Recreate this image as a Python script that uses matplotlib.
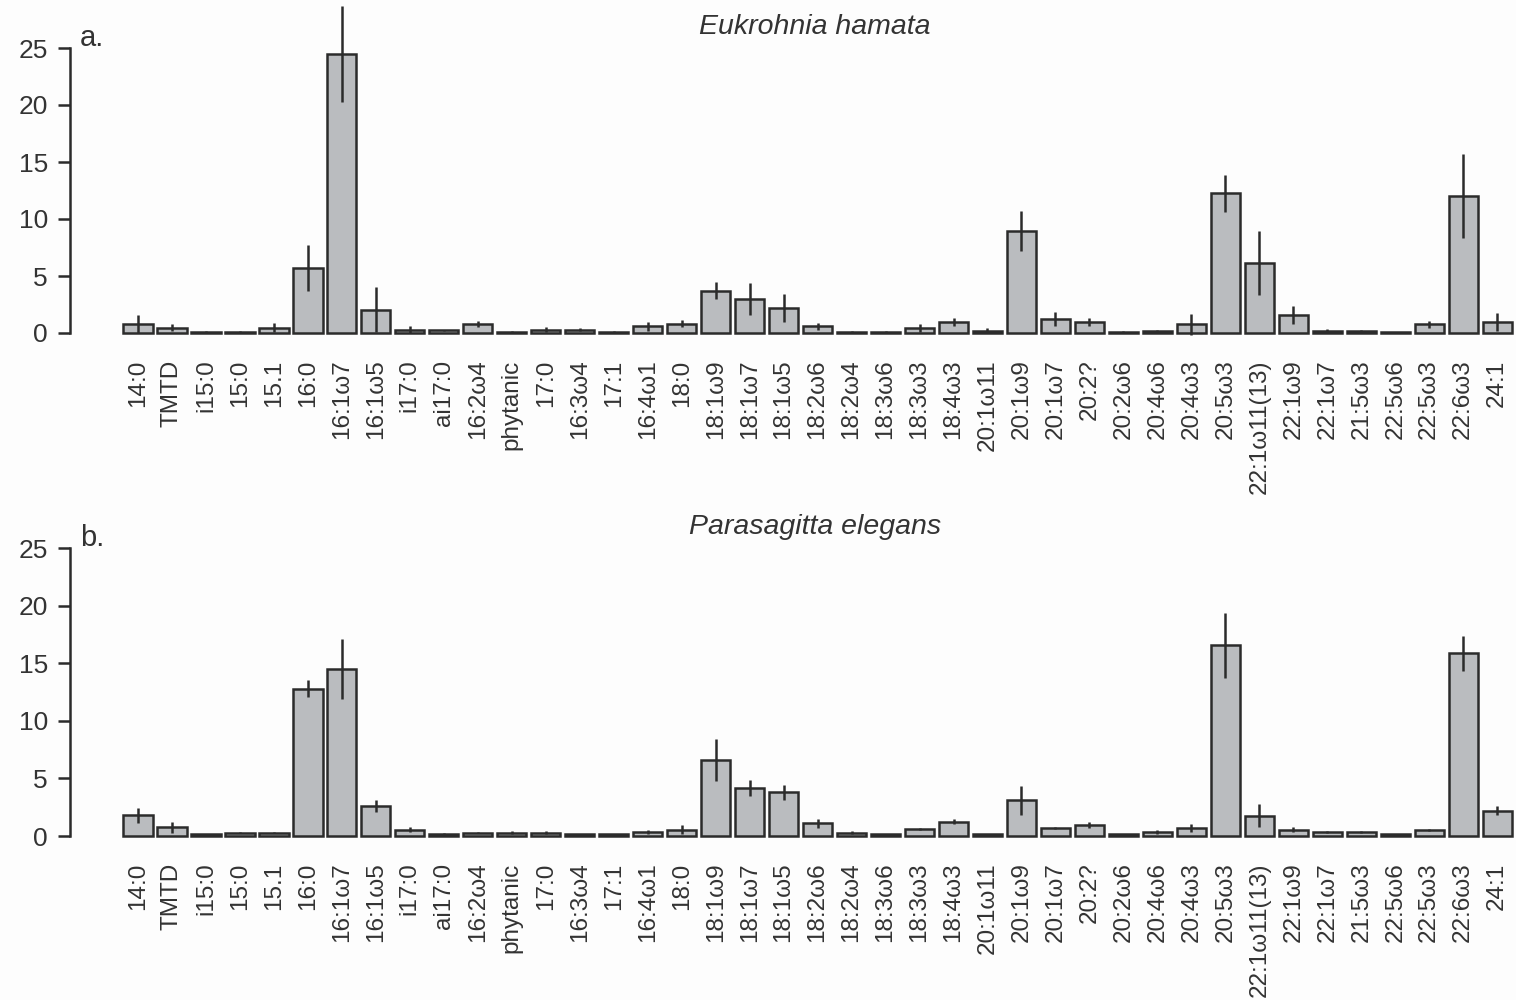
import matplotlib
matplotlib.use("Agg")
import matplotlib.pyplot as plt
import numpy as np

plt.rcParams['font.family'] = ['Liberation Sans', 'DejaVu Sans']

# Fatty acid labels (x categories)
fatty_acids = ["14:0", "TMTD", "i15:0", "15:0", "15.1", "16:0", "16:1ω7", "16:1ω5",
               "i17:0", "ai17:0", "16:2ω4", "phytanic", "17:0", "16:3ω4", "17:1",
               "16:4ω1", "18:0", "18:1ω9", "18:1ω7", "18:1ω5", "18:2ω6", "18:2ω4",
               "18:3ω6", "18:3ω3", "18:4ω3", "20:1ω11", "20:1ω9", "20:1ω7", "20:2?",
               "20:2ω6", "20:4ω6", "20:4ω3", "20:5ω3", "22:1ω11(13)", "22:1ω9",
               "22:1ω7", "21:5ω3", "22:5ω6", "22:5ω3", "22:6ω3", "24:1"]

# Eukrohnia hamata: mean % and error
hamata_mean = [0.8, 0.45, 0.1, 0.1, 0.45, 5.7, 24.5, 2.05, 0.3, 0.25, 0.8, 0.1,
               0.3, 0.3, 0.1, 0.6, 0.8, 3.7, 3.0, 2.2, 0.6, 0.1, 0.1, 0.45, 0.95,
               0.2, 8.95, 1.25, 0.95, 0.1, 0.2, 0.75, 12.25, 6.15, 1.6, 0.2, 0.2,
               0.05, 0.75, 12.0, 0.95]
hamata_err = [0.8, 0.3, 0.05, 0.05, 0.4, 2.0, 4.2, 2.0, 0.3, 0.05, 0.25, 0.05,
              0.25, 0.15, 0.05, 0.4, 0.3, 0.75, 1.4, 1.2, 0.3, 0.05, 0.05, 0.35,
              0.35, 0.2, 1.75, 0.6, 0.35, 0.05, 0.05, 0.95, 1.6, 2.8, 0.8, 0.15,
              0.1, 0.03, 0.3, 3.7, 0.8]

# Parasagitta elegans: mean % and error
elegans_mean = [1.8, 0.75, 0.15, 0.3, 0.3, 12.8, 14.5, 2.6, 0.55, 0.2, 0.3, 0.3,
                0.3, 0.15, 0.15, 0.35, 0.55, 6.6, 4.15, 3.8, 1.1, 0.3, 0.15, 0.6,
                1.25, 0.15, 3.1, 0.7, 0.95, 0.15, 0.35, 0.7, 16.55, 1.75, 0.55,
                0.35, 0.35, 0.15, 0.55, 15.85, 2.2]
elegans_err = [0.65, 0.5, 0.05, 0.05, 0.05, 0.75, 2.6, 0.55, 0.2, 0.05, 0.05, 0.1,
               0.1, 0.05, 0.05, 0.2, 0.4, 1.8, 0.7, 0.65, 0.4, 0.1, 0.05, 0.1,
               0.25, 0.05, 1.25, 0.1, 0.25, 0.05, 0.2, 0.35, 2.8, 1.0, 0.2, 0.1,
               0.1, 0.05, 0.1, 1.5, 0.4]

panels = [("a.", "Eukrohnia hamata", hamata_mean, hamata_err),
          ("b.", "Parasagitta elegans", elegans_mean, elegans_err)]

W, H = 1516, 1000
fig = plt.figure(figsize=(W / 100, H / 100), dpi=100)
fig.patch.set_facecolor("#fdfdfd")

ink = "#2b2b2b"
text_c = "#333333"
bar_fill = "#babcbf"

# pixel geometry of each panel: (y of zero, y of 25)
geom = [(333, 48), (836, 548)]
left_px, right_px = 70, 1516
x_first, x_step = 138, 33.98

x = np.arange(len(fatty_acids))
xlim = ((left_px - x_first) / x_step, (right_px - x_first) / x_step)

for (tag, title, mean, err), (y0, y25) in zip(panels, geom):
    ax = fig.add_axes([left_px / W, 1 - y0 / H, (right_px - left_px) / W, (y0 - y25) / H])
    ax.set_facecolor("none")
    ax.bar(x, mean, width=0.86, color=bar_fill, edgecolor=ink, linewidth=1.8,
           zorder=2, clip_on=False)
    ax.errorbar(x, mean, yerr=err, fmt="none", ecolor=ink, elinewidth=1.8,
                capsize=0, zorder=3, clip_on=False)
    ax.set_xlim(*xlim)
    ax.set_ylim(0, 25)
    for s in ("top", "right", "bottom"):
        ax.spines[s].set_visible(False)
    ax.spines["left"].set_bounds(0, 25)
    ax.spines["left"].set_color(ink)
    ax.spines["left"].set_linewidth(1.8)
    ax.set_yticks([0, 5, 10, 15, 20, 25])
    ax.tick_params(axis="y", direction="out", length=9, width=1.8, color=ink,
                   labelsize=19, labelcolor=text_c, pad=7)
    ax.set_xticks(x)
    ax.set_xticklabels(fatty_acids, rotation=90, fontsize=17.5, color=text_c)
    ax.tick_params(axis="x", length=0, pad=19)

    fig.text(815 / W, 1 - (y25 - 21) / H, title, ha="center", va="center",
             fontsize=20.5, style="italic", color=text_c)
    fig.text(80 / W, 1 - (y25 - 10) / H, tag, ha="left", va="center",
             fontsize=21, color=text_c)

fig.savefig("out.png", dpi=100, facecolor=fig.get_facecolor())
